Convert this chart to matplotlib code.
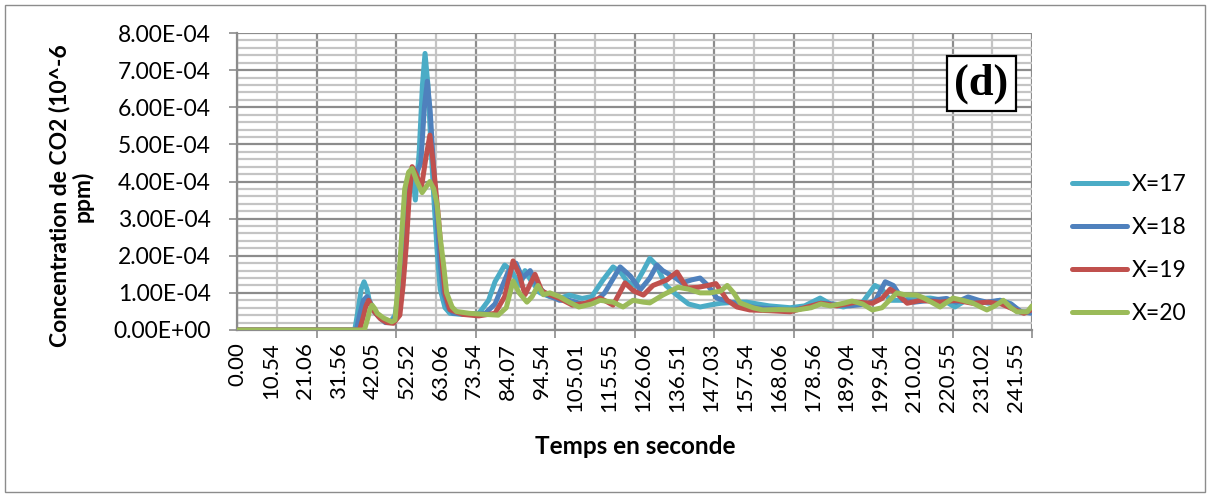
import matplotlib
matplotlib.use("Agg")
import matplotlib.pyplot as plt
from matplotlib.patches import Rectangle
from matplotlib.ticker import MultipleLocator, FuncFormatter
import numpy as np

# temps (s) et concentration (en 1e-4)
t17 = [0, 36.5, 37.5, 38.5, 39.4, 40.3, 41, 43, 45.5, 47.5, 49, 50, 51, 52, 53, 54.3, 55.3, 56.5, 57.5, 58.3,
       59.2, 60, 61, 62, 63, 64.5, 66,
       70, 75, 78, 80, 83, 85, 87.8, 89.3, 91, 94, 97, 100, 103, 107, 110, 113.5, 116.6, 119, 121, 123.4,
       126, 128, 130, 133, 136.4, 140, 143.6, 147, 150, 155, 158, 165, 171.5, 176, 180.8, 184, 188, 194,
       197.8, 200, 202.5, 206, 210, 215, 219, 222.6, 226, 230, 233, 236.6, 240, 243, 246.5]
c17 = [0, 0, 0.5, 1.1, 1.3, 1.1, 0.8, 0.45, 0.25, 0.2, 0.4, 1.0, 2.0, 3.2, 4.0, 4.3, 3.5, 4.8, 6.6, 7.45,
       6.6, 5.2, 3.6, 2.2, 1.1, 0.6, 0.45,
       0.42, 0.45, 0.8, 1.3, 1.75, 1.6, 1.2, 1.6, 1.35, 1.0, 0.9, 0.85, 0.94, 0.85, 0.9, 1.35, 1.7, 1.55, 1.3, 1.2,
       1.6, 1.93, 1.75, 1.2, 0.94, 0.7, 0.62, 0.68, 0.72, 0.75, 0.75, 0.65, 0.6, 0.65, 0.86, 0.7, 0.62, 0.75,
       1.2, 1.1, 0.8, 0.8, 0.85, 0.86, 0.8, 0.62, 0.8, 0.78, 0.72, 0.8, 0.7, 0.47, 0.5]

t18 = [0, 37, 38, 39.2, 40.3, 41.2, 42, 44, 46, 48, 50, 51, 52, 53, 54, 55.5, 57, 58.1, 59, 59.9, 60.8, 62,
       63, 64, 65.5, 67, 72, 77, 80, 84,
       86.5, 88.5, 90.9, 93, 96, 100, 103, 107, 111, 114, 118.8, 122, 125, 128, 130.2, 132, 134, 136, 138,
       141, 143.6, 146, 148.8, 153, 161, 171.5, 177, 181, 185, 190, 195, 198, 201, 203.5, 206.5, 210, 215,
       220, 223, 226.7, 230, 232.5, 236.6, 240, 243, 246.5]
c18 = [0, 0, 0.4, 0.8, 0.9, 0.75, 0.55, 0.35, 0.2, 0.2, 0.5, 1.4, 2.5, 3.5, 4.2, 4.2, 4.5, 6.0, 6.7, 5.9,
       4.6, 3.0, 1.8, 1.0, 0.6, 0.45, 0.42,
       0.45, 0.7, 1.55, 1.8, 1.4, 1.6, 1.2, 0.95, 0.8, 0.8, 0.7, 0.75, 1.0, 1.7, 1.45, 1.08, 1.4, 1.75, 1.6,
       1.5, 1.4, 1.27, 1.35, 1.4, 1.2, 0.86, 0.75, 0.6, 0.54, 0.6, 0.72, 0.7, 0.65, 0.7, 0.8, 1.3, 1.2, 0.8,
       0.75, 0.8, 0.85, 0.75, 0.89, 0.8, 0.75, 0.8, 0.7, 0.5, 0.45]

t19 = [0, 38, 39, 40, 40.8, 41.7, 42.5, 44.5, 46.5, 48.5, 50.5, 51.5, 52.5, 53.4, 54.3, 55.5, 57.2, 58.5, 59.8,
       60.7, 61.5, 62.5, 63.5, 64.5, 66, 70,
       75, 80, 83, 85.6, 87.5, 89.3, 92.4, 94.5, 97, 100, 104, 108, 112.6, 116.6, 120.3, 123, 126, 129,
       133.3, 136.4, 139.5, 143, 146, 148.5, 152, 155, 159, 165, 171.5, 176, 181, 186, 192, 197, 200, 202.5,
       205, 207.8, 212, 218, 223, 228, 233, 237, 241, 244, 246.5]
c19 = [0, 0, 0.3, 0.65, 0.8, 0.65, 0.5, 0.3, 0.2, 0.18, 0.4, 1.2, 2.3, 3.6, 4.4, 4.2, 3.85, 4.6, 5.25,
       4.6, 3.9, 3.0, 1.9, 1.0, 0.55, 0.42,
       0.38, 0.45, 0.9, 1.86, 1.5, 0.95, 1.5, 1.05, 0.95, 0.85, 0.67, 0.72, 0.86, 0.67, 1.27, 1.05, 0.94, 1.2,
       1.35, 1.56, 1.13, 1.15, 1.2, 1.25, 0.8, 0.62, 0.54, 0.52, 0.49, 0.6, 0.72, 0.65, 0.75, 0.72, 0.85, 1.1,
       0.95, 0.72, 0.8, 0.75, 0.8, 0.72, 0.75, 0.7, 0.55, 0.45, 0.55]

t20 = [0, 39.5, 40.5, 41.2, 41.9, 42.7, 43.5, 45.5, 48, 49, 50.5, 52, 53.2, 54.3, 55.8, 57.4, 58.6, 59.8, 61,
       62, 63, 64, 65, 66.7, 68,
       72, 77, 81, 83.5, 85.6, 87.5, 89.9, 91.5, 93.3, 95, 97, 100, 103, 106, 110, 112.6, 116.6, 119.7,
       122.8, 126, 128, 132, 136.7, 140, 143.6, 146.7, 150, 152, 154, 156, 160, 163, 168, 173.6, 178, 181,
       184, 188, 190.7, 194, 197, 200, 204.6, 207, 210.8, 213, 218, 222, 225, 228, 232.5, 235, 237.6, 240,
       241.8, 245, 246.5]
c20 = [0, 0, 0.3, 0.55, 0.67, 0.58, 0.45, 0.32, 0.22, 0.27, 1.8, 3.8, 4.25, 4.35, 4.0, 3.7, 3.85, 4.0, 3.8,
       3.4, 2.5, 1.8, 1.0, 0.62, 0.5,
       0.45, 0.42, 0.4, 0.6, 1.32, 1.0, 0.75, 0.9, 1.2, 0.95, 1.0, 0.9, 0.75, 0.62, 0.7, 0.8, 0.75, 0.62,
       0.8, 0.75, 0.73, 0.94, 1.15, 1.1, 1.0, 1.0, 1.05, 1.2, 1.0, 0.73, 0.6, 0.54, 0.55, 0.54, 0.6, 0.7,
       0.65, 0.72, 0.78, 0.7, 0.54, 0.6, 1.0, 0.95, 0.94, 0.86, 0.62, 0.86, 0.8, 0.73, 0.54, 0.65, 0.8, 0.6,
       0.49, 0.49, 0.65]

series_names = ["X=17", "X=18", "X=19", "X=20"]
series_colors = ["#4bacc6", "#4f81bd", "#c0504d", "#9bbb59"]

xtick_labels = ["0.00", "10.54", "21.06", "31.56", "42.05", "52.52", "63.06", "73.54", "84.07", "94.54",
                "105.01", "115.55", "126.06", "136.51", "147.03", "157.54", "168.06", "178.56", "189.04",
                "199.54", "210.02", "220.55", "231.02", "241.55"]

plt.rcParams['font.family'] = ['Lato', 'DejaVu Sans']

fig = plt.figure(figsize=(12.1, 4.95), dpi=100)
ax = fig.add_axes([237 / 1210, 1 - 330 / 495, 795 / 1210, 297 / 495])

grid_major = '#8c8c8c'
grid_minor = '#c4c4c4'
step = 24.65
xmax = 246.5

for k in range(10):
    ax.axvline((k + 0.5) * step, color=grid_minor, lw=1.6, zorder=0)
for k in range(11):
    ax.axvline(k * step, color=grid_major, lw=1.6, zorder=0.5)

ts = [t17, t18, t19, t20]
cs = [c17, c18, c19, c20]
for t, c, name, col in zip(ts, cs, series_names, series_colors):
    ax.plot(t, np.array(c) * 1e-4, color=col, lw=3.6, label=name,
            solid_joinstyle='round', solid_capstyle='round', zorder=3)

ax.set_xlim(0, xmax)
ax.set_ylim(0, 8e-4)
ax.yaxis.set_major_locator(MultipleLocator(1e-4))
ax.yaxis.set_minor_locator(MultipleLocator(2e-5))
ax.yaxis.set_major_formatter(FuncFormatter(lambda v, p: f"{v:.2E}"))
ax.grid(which='major', axis='y', color=grid_major, lw=1.6, zorder=0.5)
ax.grid(which='minor', axis='y', color=grid_minor, lw=1.6, zorder=0)
ax.set_axisbelow(True)

ax.set_xticks([float(s) for s in xtick_labels])
ax.set_xticklabels(xtick_labels, rotation=90)
ax.set_xticks(np.arange(0, xmax + 0.1, step), minor=True)
ax.tick_params(axis='x', which='major', length=0, pad=9, labelsize=16)
ax.tick_params(axis='x', which='minor', length=6, width=1.2, color=grid_major)
ax.tick_params(axis='y', which='major', length=6, width=1.2, color=grid_major, pad=13, labelsize=16.5)
ax.tick_params(axis='y', which='minor', length=0)

for s in ['top', 'right']:
    ax.spines[s].set_visible(False)
for s in ['left', 'bottom']:
    ax.spines[s].set_color(grid_major)
    ax.spines[s].set_linewidth(1.6)

ax.text(0.9365, 0.83, "(d)", transform=ax.transAxes, ha='center', va='center',
        fontsize=32, fontweight='bold', family='Liberation Serif', zorder=5,
        bbox=dict(boxstyle='square,pad=0.16', fc='white', ec='black', lw=1.6))

fig.text(635 / 1210, 1 - 447 / 495, "Temps en seconde", ha='center', va='center',
         fontsize=17.5, fontweight='bold')
fig.text(71 / 1210, 1 - 196 / 495, "Concentration de CO2 (10^-6\nppm)", ha='center', va='center',
         rotation=90, fontsize=16.5, fontweight='bold', multialignment='center', linespacing=1.1)

fig.legend(loc='center left', bbox_to_anchor=(1072 / 1210, 1 - 249 / 495), frameon=False,
           fontsize=16.5, handlelength=2.4, handletextpad=0.2, labelspacing=0.95,
           borderpad=0, borderaxespad=0)

fig.add_artist(Rectangle((5 / 1210, 3 / 495), 1200 / 1210, 487 / 495, transform=fig.transFigure,
                         fill=False, ec='#8c8c8c', lw=1))

fig.savefig("out.png", dpi=100)
